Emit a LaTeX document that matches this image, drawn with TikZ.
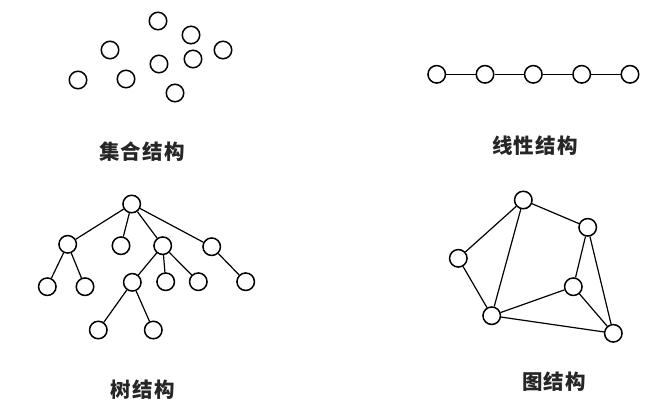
\documentclass[tikz,border=0pt]{standalone}
\usepackage{fontspec}
\newfontfamily\cjk[LetterSpace=6]{Noto Sans CJK SC}
\begin{document}
\begin{tikzpicture}[x=1pt,y=-1pt,
  vtx/.style={circle,draw=black,line width=1.5pt,fill=white,minimum size=17.5pt,inner sep=0pt},
  edge/.style={line width=1.2pt},
  lbl/.style={font=\cjk\bfseries\fontsize{20.5}{24}\selectfont,text=black!85,inner sep=0pt}]
\useasboundingbox (0,0) rectangle (668,418);
% set
\node[vtx] (s1) at (158,21) {};
\node[vtx] (s2) at (191,35) {};
\node[vtx] (s3) at (110,50) {};
\node[vtx] (s4) at (223,50) {};
\node[vtx] (s5) at (159,64) {};
\node[vtx] (s6) at (193,59) {};
\node[vtx] (s7) at (78,80) {};
\node[vtx] (s8) at (126,79) {};
\node[vtx] (s9) at (175,93) {};
\node[lbl] (ls) at (142,152) {集合结构};
% linear
\node[vtx] (l1) at (436.7,74.3) {};
\node[vtx] (l2) at (485,74.3) {};
\node[vtx] (l3) at (533.3,74.3) {};
\node[vtx] (l4) at (581.7,74.3) {};
\node[vtx] (l5) at (630,74.3) {};
\draw[edge] (l1) -- (l2) (l2) -- (l3) (l3) -- (l4) (l4) -- (l5);
\node[lbl] (ll) at (535,146) {线性结构};
% tree
\node[vtx] (r) at (131.7,204) {};
\node[vtx] (a) at (67.7,244.3) {};
\node[vtx] (b) at (121,245.7) {};
\node[vtx] (c) at (162.7,245.7) {};
\node[vtx] (d) at (211.7,246.7) {};
\node[vtx] (a1) at (47.3,286.7) {};
\node[vtx] (a2) at (85,286.7) {};
\node[vtx] (c1) at (132.3,282.3) {};
\node[vtx] (c2) at (165.7,281.7) {};
\node[vtx] (c3) at (198.3,281.7) {};
\node[vtx] (d1) at (245.7,281.7) {};
\node[vtx] (c11) at (98.3,330) {};
\node[vtx] (c12) at (153.3,330) {};
\draw[edge] (r) -- (a) (r) -- (b) (r) -- (c) (r) -- (d)
  (a) -- (a1) (a) -- (a2) (c) -- (c1) (c) -- (c2) (c) -- (c3) (d) -- (d1)
  (c1) -- (c11) (c1) -- (c12);
\node[lbl] (lt) at (142.7,389.3) {树结构};
% graph
\node[vtx] (g1) at (523.3,200) {};
\node[vtx] (g2) at (587.7,227.3) {};
\node[vtx] (g3) at (458.3,258.3) {};
\node[vtx] (g4) at (573.3,286.7) {};
\node[vtx] (g5) at (491.7,315.7) {};
\node[vtx] (g6) at (613.3,333.3) {};
\draw[edge] (g1) -- (g3) (g1) -- (g5) (g1) -- (g2) (g3) -- (g5)
  (g2) -- (g4) (g2) -- (g6) (g4) -- (g5) (g4) -- (g6) (g5) -- (g6);
\node[lbl] (lg) at (554,381.7) {图结构};
\end{tikzpicture}
\end{document}
